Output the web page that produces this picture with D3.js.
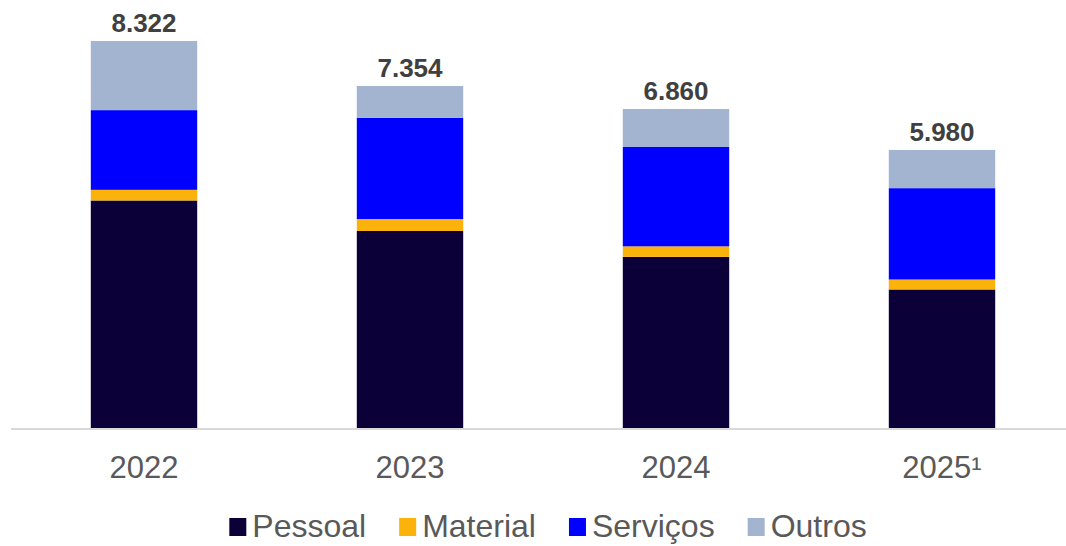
<!DOCTYPE html>
<html>
<head>
<meta charset="utf-8">
<script src="https://cdn.jsdelivr.net/npm/d3@7"></script>
<style>
  body { margin: 0; background: #fff; }
  svg { display: block; font-family: "Liberation Sans", Arial, sans-serif; }
</style>
</head>
<body>
<script>
// data
const years = ["2022", "2023", "2024", "2025\u00b9"];
const series = ["Pessoal", "Material", "Serviços", "Outros"];
const pessoal = [4893, 4237, 3680, 2979];
const material = [229, 257, 227, 214];
const servicos = [1714, 2178, 2143, 1965];
const outros = [1486, 682, 810, 822];
const totals = ["8.322", "7.354", "6.860", "5.980"];
const colors = ["#0b0038", "#fbb30b", "#0000ff", "#a2b4d0"];

const width = 1066, height = 546;

let rows = years.map(function(y, i) {
  return { year: y, "Pessoal": pessoal[i], "Material": material[i], "Serviços": servicos[i], "Outros": outros[i], total: totals[i] };
});

let stacked = d3.stack().keys(series)(rows);

let x = d3.scaleBand()
  .domain(years)
  .range([11, 1075])
  .paddingInner(0.6)
  .paddingOuter(0.3);

let y = d3.scaleLinear()
  .domain([0, 9000])
  .range([428, 9.5]);

let color = d3.scaleOrdinal().domain(series).range(colors);

let svg = d3.select("body").append("svg")
  .attr("width", width)
  .attr("height", height);

// bars
svg.selectAll(".layer")
  .data(stacked)
  .enter().append("g")
  .attr("class", "layer")
  .attr("fill", function(d) { return color(d.key); })
  .selectAll("rect")
  .data(function(d) { return d; })
  .enter().append("rect")
  .attr("x", function(d) { return x(d.data.year); })
  .attr("width", x.bandwidth())
  .attr("y", function(d) { return y(d[1]); })
  .attr("height", function(d) { return y(d[0]) - y(d[1]); });

// baseline
svg.append("line")
  .attr("x1", 11)
  .attr("x2", width)
  .attr("y1", y(0) + 1)
  .attr("y2", y(0) + 1)
  .attr("stroke", "#d9d9d9")
  .attr("stroke-width", 2);

// x axis labels
let xaxis = svg.append("g")
  .attr("transform", "translate(0," + y(0) + ")")
  .call(d3.axisBottom(x).tickSize(0).tickPadding(0));
xaxis.select(".domain").remove();
xaxis.selectAll("text")
  .attr("y", 50)
  .attr("dy", null)
  .attr("font-size", 31)
  .attr("font-family", "'Liberation Sans', Arial, sans-serif")
  .attr("fill", "#595959");

// total labels
svg.selectAll(".total")
  .data(rows)
  .enter().append("text")
  .attr("class", "total")
  .attr("x", function(d) { return x(d.year) + x.bandwidth() / 2; })
  .attr("y", function(d) { return y(d["Pessoal"] + d["Material"] + d["Serviços"] + d["Outros"]) - 9; })
  .attr("text-anchor", "middle")
  .attr("font-size", 26)
  .attr("font-weight", "bold")
  .attr("fill", "#404040")
  .text(function(d) { return d.total; });

// legend
let legend = svg.append("g");
let lx = 0;
series.forEach(function(s) {
  let item = legend.append("g").attr("transform", "translate(" + lx + ",0)");
  item.append("rect")
    .attr("x", 0)
    .attr("y", -19)
    .attr("width", 17)
    .attr("height", 18)
    .attr("fill", color(s));
  let t = item.append("text")
    .attr("x", 23)
    .attr("y", 0)
    .attr("font-size", 32)
    .attr("fill", "#595959")
    .text(s);
  lx += 23 + t.node().getComputedTextLength() + 33;
});
let lw = lx - 33;
legend.attr("transform", "translate(" + (548 - lw / 2) + ",537)");
</script>
</body>
</html>
